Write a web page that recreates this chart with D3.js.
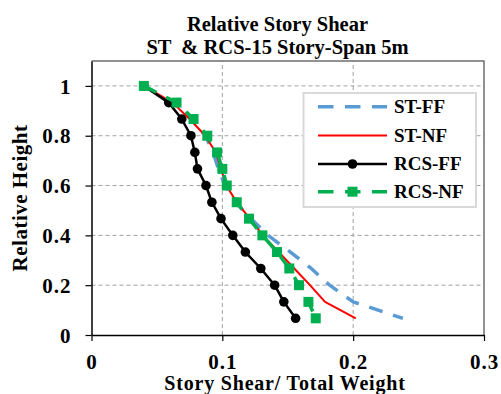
<!DOCTYPE html>
<html>
<head>
<meta charset="utf-8">
<script src="https://cdn.jsdelivr.net/npm/d3@7"></script>
<style>
  html, body { margin: 0; padding: 0; background: #fff; }
  svg { display: block; font-family: "Liberation Serif", "Times New Roman", serif; font-weight: bold; }
</style>
</head>
<body>
<svg id="chart" width="501" height="394"></svg>
<script>
// Relative height of each story level (top story first)
const relHeight = [1, 0.933, 0.867, 0.8, 0.733, 0.667, 0.6, 0.533, 0.467, 0.4, 0.333, 0.267, 0.2, 0.133, 0.067];

// Story shear / total weight for each model
const stFF  = [0.040, 0.063, 0.076, 0.087, 0.093, 0.097, 0.102, 0.110, 0.122, 0.135, 0.152, 0.168, 0.182, 0.200, 0.238];
const stNF  = [0.040, 0.062, 0.075, 0.087, 0.095, 0.099, 0.103, 0.111, 0.121, 0.131, 0.143, 0.155, 0.167, 0.1785, 0.202];
const rcsFF = [0.040, 0.059, 0.069, 0.076, 0.079, 0.081, 0.0875, 0.092, 0.099, 0.108, 0.1176, 0.1294, 0.140, 0.147, 0.156];
const rcsNF = [0.040, 0.065, 0.078, 0.0885, 0.096, 0.100, 0.1034, 0.111, 0.1204, 0.1306, 0.1418, 0.1512, 0.1586, 0.1658, 0.1714];

const seriesNames = ["ST-FF", "ST-NF", "RCS-FF", "RCS-NF"];

const xTicks = [0, 0.1, 0.2, 0.3];
const xTickLabels = ["0", "0.1", "0.2", "0.3"];
const yTicks = [0, 0.2, 0.4, 0.6, 0.8, 1];
const yTickLabels = ["0", "0.2", "0.4", "0.6", "0.8", "1"];

const titleLines = ["Relative Story Shear", "ST  & RCS-15 Story-Span 5m"];
const xTitle = "Story Shear/ Total Weight";
const yTitle = "Relative Height";

const svg = d3.select("#chart");

const x = d3.scaleLinear().domain([0, 0.3]).range([91.5, 484]);
const y = d3.scaleLinear().domain([0, 1.1]).range([335, 61]);

// gridlines
const grid = svg.append("g").attr("stroke", "#a0a0a0").attr("stroke-width", 1).attr("stroke-dasharray", "4,3");
grid.selectAll("line.h").data(yTicks.filter(v => v > 0)).join("line")
  .attr("x1", x(0)).attr("x2", x(0.3))
  .attr("y1", d => y(d)).attr("y2", d => y(d));
grid.selectAll("line.v").data(xTicks.filter(v => v > 0 && v < 0.3)).join("line")
  .attr("y1", y(0)).attr("y2", y(1.1))
  .attr("x1", d => x(d)).attr("x2", d => x(d));

// plot frame (top/right)
svg.append("path")
  .attr("d", `M${x(0)},${y(1.1)}H${x(0.3)}V${y(0)}`)
  .attr("fill", "none").attr("stroke", "#6e6e6e").attr("stroke-width", 1.5);

// axes
const xAxis = d3.axisBottom(x).tickValues(xTicks).tickFormat((d, i) => xTickLabels[i]).tickSize(6).tickSizeOuter(0);
const yAxis = d3.axisLeft(y).tickValues(yTicks).tickFormat((d, i) => yTickLabels[i]).tickSize(6).tickSizeOuter(0);

const gx = svg.append("g").attr("transform", `translate(0,${y(0)})`).call(xAxis);
const gy = svg.append("g").attr("transform", `translate(${x(0)},0)`).call(yAxis);
[gx, gy].forEach(g => {
  g.select(".domain").attr("stroke", "#000").attr("stroke-width", 1.5);
  g.selectAll(".tick line").attr("stroke", "#000").attr("stroke-width", 1.2);
  g.selectAll(".tick text")
    .attr("font-family", "Liberation Serif, Times New Roman, serif")
    .attr("font-weight", "bold").attr("font-size", 21)
    .attr("letter-spacing", 1).attr("fill", "#000");
});
gx.selectAll(".tick text").attr("dy", null).attr("y", 33.5);
gy.selectAll(".tick text").attr("x", -20).attr("dy", "0.34em");

// series
const series = [
  { name: seriesNames[0], vals: stFF,  color: "#5b9bd5", width: 3.5, dash: "14,11", marker: null },
  { name: seriesNames[1], vals: stNF,  color: "#ff0000", width: 2,   dash: null,    marker: null },
  { name: seriesNames[2], vals: rcsFF, color: "#000000", width: 2.5, dash: null,    marker: "circle" },
  { name: seriesNames[3], vals: rcsNF, color: "#00b050", width: 3.5, dash: "14,11", marker: "square" }
];

const line = d3.line().x(d => x(d[0])).y(d => y(d[1]));

series.forEach(s => {
  const pts = s.vals.map((v, i) => [v, relHeight[i]]);
  svg.append("path")
    .datum(pts)
    .attr("d", line)
    .attr("fill", "none")
    .attr("stroke", s.color)
    .attr("stroke-width", s.width)
    .attr("stroke-dasharray", s.dash)
    .attr("stroke-linejoin", "round");
  if (s.marker === "circle") {
    svg.append("g").selectAll("circle").data(pts).join("circle")
      .attr("cx", d => x(d[0])).attr("cy", d => y(d[1])).attr("r", 4.8).attr("fill", s.color);
  } else if (s.marker === "square") {
    svg.append("g").selectAll("rect").data(pts).join("rect")
      .attr("x", d => x(d[0]) - 5).attr("y", d => y(d[1]) - 5)
      .attr("width", 10).attr("height", 10).attr("fill", s.color);
  }
});

// legend
const lg = svg.append("g");
lg.append("rect").attr("x", 303.5).attr("y", 93).attr("width", 172.5).attr("height", 114)
  .attr("fill", "#fff").attr("stroke", "#d9d9d9").attr("stroke-width", 2);
const legendY = [106.7, 135.5, 164, 191.7];
series.forEach((s, i) => {
  const ly = legendY[i];
  lg.append("line").attr("x1", 318).attr("x2", 387).attr("y1", ly).attr("y2", ly)
    .attr("stroke", s.color).attr("stroke-width", s.width)
    .attr("stroke-dasharray", s.dash ? "15.5,11.5" : null);
  if (s.marker === "circle") {
    lg.append("circle").attr("cx", 352.5).attr("cy", ly).attr("r", 4.8).attr("fill", s.color);
  } else if (s.marker === "square") {
    lg.append("rect").attr("x", 347.5).attr("y", ly - 5).attr("width", 10).attr("height", 10).attr("fill", s.color);
  }
  lg.append("text").attr("x", 394).attr("y", ly).attr("dy", "0.34em")
    .attr("font-size", 19).attr("fill", "#000").text(s.name);
});

// titles (double space kept in second line)
svg.append("g").selectAll("text").data(titleLines).join("text")
  .attr("x", 277.5).attr("y", (d, i) => 31 + i * 23.3)
  .attr("text-anchor", "middle").attr("font-size", 20.5).attr("fill", "#000")
  .style("white-space", "pre")
  .text(d => d);

svg.append("text").attr("x", 285).attr("y", 389.5)
  .attr("text-anchor", "middle").attr("font-size", 20).attr("letter-spacing", 0.8)
  .attr("fill", "#000").text(xTitle);

svg.append("text").attr("transform", `translate(27,198) rotate(-90)`)
  .attr("text-anchor", "middle").attr("font-size", 21).attr("letter-spacing", 0.5)
  .attr("fill", "#000").text(yTitle);
</script>
</body>
</html>
